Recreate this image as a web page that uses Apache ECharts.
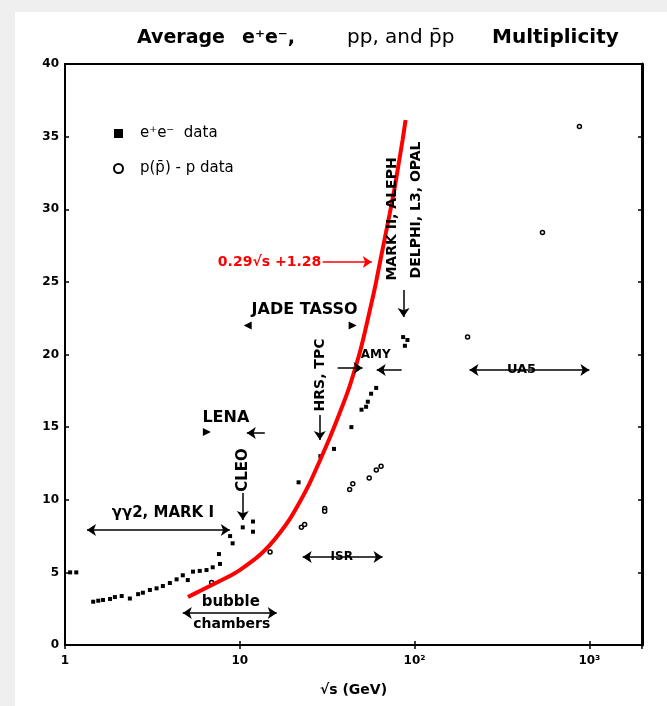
<!DOCTYPE html>
<html>
<head>
<meta charset="utf-8">
<script src="https://cdn.jsdelivr.net/npm/echarts@6/dist/echarts.min.js"></script>
<style>
html,body{margin:0;padding:0;background:#efefef;width:667px;height:706px;overflow:hidden;}
#bg{position:absolute;left:15px;top:12px;width:652px;height:694px;background:#fff;}
#chart{position:absolute;left:0;top:0;width:667px;height:706px;}
</style>
</head>
<body>
<div id="bg"></div>
<div id="chart"></div>
<script>
// ---- tick labels ----
const xTickValues = [1, 10, 100, 1000];
const xTickLabels = ['1', '10', '10²', '10³'];

// ---- e+e- data (sqrt(s) GeV, <n>) ----
const eeEnergy = [1.07, 1.16, 1.45, 1.55, 1.65, 1.81, 1.93, 2.11, 2.35, 2.62, 2.79, 3.06, 3.34, 3.63, 3.98, 4.35, 4.72, 5.04, 5.4, 5.9, 6.45, 7.0, 7.7, 7.6, 8.8, 9.1, 10.4, 11.9, 11.9, 21.7, 28.9, 34.6, 43.5, 49.7, 52.8, 54, 56.4, 60.3, 86, 88, 91];
const eeMult   = [5.0, 5.0, 2.98, 3.05, 3.1, 3.17, 3.3, 3.37, 3.2, 3.5, 3.6, 3.79, 3.9, 4.06, 4.27, 4.52, 4.8, 4.47, 5.05, 5.1, 5.16, 5.35, 5.58, 6.26, 7.5, 7.0, 8.1, 8.5, 7.8, 11.2, 13.0, 13.5, 15.0, 16.2, 16.4, 16.75, 17.3, 17.7, 21.2, 20.6, 21.0];

// ---- p(pbar)-p data ----
const ppEnergy = [6.9, 14.9, 22.5, 23.5, 30.6, 30.6, 42.5, 44.3, 55, 60.4, 64.3, 201, 539, 877];
const ppMult   = [4.3, 6.4, 8.1, 8.3, 9.4, 9.2, 10.7, 11.1, 11.5, 12.05, 12.3, 21.2, 28.4, 35.7];

// ---- red curve ----
const fitEnergy = [5.05, 5.91, 6.74, 7.69, 8.77, 10.0, 11.41, 13.01, 14.84, 16.93, 19.31, 22.03, 25.12, 28.65, 32.68, 37.28, 42.52, 48.5, 51.8, 55.32, 59.08, 63.1, 67.39, 71.97, 76.86, 82.09, 85.39, 88.82];
const fitMult   = [3.30, 3.72, 4.06, 4.41, 4.75, 5.16, 5.65, 6.20, 6.88, 7.71, 8.67, 9.85, 11.15, 12.67, 14.25, 15.97, 17.83, 20.10, 21.48, 22.99, 24.51, 26.23, 27.95, 29.67, 31.46, 33.53, 34.77, 36.14];

// ---- annotation labels (anchored in data units) ----
const annTexts  = ['γγ2, MARK I', 'bubble', 'chambers', 'ISR', 'UA5', 'AMY', 'HRS, TPC', 'MARK II, ALEPH', 'DELPHI, L3, OPAL', 'JADE TASSO', 'LENA', 'CLEO'];
const annEnergy = [3.63, 8.88, 9.0, 38.3, 409, 59.9, 29.0, 74.8, 102.6, 23.5, 8.32, 10.5];
const annMult   = [9.09, 2.96, 1.45, 6.06, 18.93, 19.97, 18.59, 29.33, 29.95, 23.06, 15.63, 12.05];

// ---- annotation arrows (data units) ----
const arrowE1 = [1.336, 4.72, 22.9, 206, 36.3, 84.3, 28.7, 86.5, 13.9, 10.4];
const arrowN1 = [7.92, 2.2, 6.06, 18.93, 19.07, 18.93, 15.83, 24.44, 14.6, 10.46];
const arrowE2 = [8.77, 16.27, 65.6, 1000, 50.4, 60.7, 28.7, 86.5, 10.97, 10.4];
const arrowN2 = [7.92, 2.2, 6.06, 18.93, 19.07, 18.93, 14.11, 22.58, 14.6, 8.6];
const arrowBoth = [true, true, true, true, false, false, false, false, false, false];

// ---- experiment range markers ----
const markE = [11.1, 44.2, 6.48];
const markN = [22.0, 22.0, 14.66];

// ---- red formula label ----
const fitLabel = '0.29√s +1.28';
const fitLabelE = 14.8, fitLabelN = 26.37;
const fitArrowE = [29.8, 56.9], fitArrowN = [26.37, 26.37];

const FONT = 'DejaVu Sans';
const annStyles = {
  'γγ2, MARK I': {fontSize: 15, fontWeight: 'bold'},
  'bubble': {fontSize: 15, fontWeight: 'bold'},
  'chambers': {fontSize: 14, fontWeight: 'bold'},
  'ISR': {fontSize: 12, fontWeight: 'bold', backgroundColor: '#fff', padding: [0, 3]},
  'UA5': {fontSize: 13, fontWeight: 'bold', backgroundColor: '#fff', padding: [0, 3]},
  'AMY': {fontSize: 12, fontWeight: 'bold'},
  'HRS, TPC': {fontSize: 14, fontWeight: 'bold', rotate: 90},
  'MARK II, ALEPH': {fontSize: 14, fontWeight: 'bold', rotate: 90},
  'DELPHI, L3, OPAL': {fontSize: 14, fontWeight: 'bold', rotate: 90},
  'JADE TASSO': {fontSize: 16, fontWeight: 'bold'},
  'LENA': {fontSize: 16, fontWeight: 'bold'},
  'CLEO': {fontSize: 15, fontWeight: 'bold', rotate: 90}
};

const baseLabel = {show: true, position: 'inside', color: '#000', fontFamily: FONT,
  textBorderWidth: 0, textBorderColor: 'transparent', textShadowBlur: 0};

const annData = annTexts.map((t, i) => ({
  value: [annEnergy[i], annMult[i]],
  name: t,
  label: Object.assign({}, baseLabel, {formatter: t}, annStyles[t])
}));

const arrowData = arrowE1.map((e, i) => [
  {coord: [e, arrowN1[i]], symbol: arrowBoth[i] ? 'arrow' : 'none'},
  {coord: [arrowE2[i], arrowN2[i]], symbol: 'arrow'}
]);

const chart = echarts.init(document.getElementById('chart'), null, {renderer: 'canvas'});

const xLabelFmt = v => {
  for (let i = 0; i < xTickValues.length; i++) {
    if (Math.abs(v - xTickValues[i]) / xTickValues[i] < 1e-6) return xTickLabels[i];
  }
  return '';
};

const option = {
  backgroundColor: 'transparent',
  animation: false,
  title: {
    text: '{a|Average}{e|e⁺e⁻,}{p|pp, and p̄p}{m|Multiplicity}',
    left: 132, top: 23,
    textStyle: {
      rich: {
        a: {fontFamily: FONT, fontWeight: 'bold', fontSize: 19, color: '#000', width: 105},
        e: {fontFamily: FONT, fontWeight: 'bold', fontSize: 19, color: '#000', width: 105},
        p: {fontFamily: FONT, fontWeight: 'normal', fontSize: 20, color: '#000', width: 145},
        m: {fontFamily: FONT, fontWeight: 'bold', fontSize: 20, color: '#000'}
      }
    }
  },
  legend: {
    orient: 'vertical', left: 108, top: 121, itemGap: 20,
    itemWidth: 9, itemHeight: 9,
    textStyle: {fontFamily: FONT, fontSize: 15, color: '#000', padding: [0, 0, 0, 12]},
    data: [{name: 'e⁺e⁻  data', icon: 'rect'}, {name: 'p(p̄) - p data', icon: 'circle'}],
    selectedMode: false
  },
  grid: {left: 65, right: 25, top: 64, bottom: 61, show: true, borderColor: '#000', borderWidth: 2},
  xAxis: [{
    type: 'log', logBase: 10, min: 1, max: 2000, position: 'bottom',
    axisLine: {lineStyle: {color: '#000', width: 2}},
    axisTick: {inside: true, length: 4, lineStyle: {color: '#000', width: 1.5}},
    splitLine: {show: false},
    axisLabel: {formatter: xLabelFmt, fontFamily: FONT, fontWeight: 'bold', fontSize: 12, color: '#000', margin: 10},
    name: '√s (GeV)', nameLocation: 'middle', nameGap: 38,
    nameTextStyle: {fontFamily: FONT, fontWeight: 'bold', fontSize: 14, color: '#000'}
  }, {
    type: 'log', logBase: 10, min: 1, max: 2000, position: 'top',
    axisLine: {lineStyle: {color: '#000', width: 2}},
    axisTick: {inside: true, length: 4, lineStyle: {color: '#000', width: 1.5}},
    splitLine: {show: false}, axisLabel: {show: false}
  }],
  yAxis: [{
    type: 'value', min: 0, max: 40, interval: 5, position: 'left',
    axisLine: {show: true, lineStyle: {color: '#000', width: 2}},
    axisTick: {show: true, inside: true, length: 4, lineStyle: {color: '#000', width: 1.5}},
    splitLine: {show: false},
    axisLabel: {fontFamily: FONT, fontWeight: 'bold', fontSize: 12, color: '#000', margin: 6}
  }, {
    type: 'value', min: 0, max: 40, interval: 5, position: 'right',
    axisLine: {show: true, lineStyle: {color: '#000', width: 3}},
    axisTick: {show: true, inside: true, length: 4, lineStyle: {color: '#000', width: 1.5}},
    splitLine: {show: false}, axisLabel: {show: false}
  }],
  series: [
    {
      name: 'e⁺e⁻  data', type: 'scatter', symbol: 'rect', symbolSize: 4,
      itemStyle: {color: '#000', opacity: 1}, silent: true,
      data: eeEnergy.map((e, i) => [e, eeMult[i]])
    },
    {
      name: 'p(p̄) - p data', type: 'scatter', symbol: 'circle', symbolSize: 4,
      itemStyle: {color: '#fff', borderColor: '#000', borderWidth: 1.5, opacity: 1}, silent: true,
      data: ppEnergy.map((e, i) => [e, ppMult[i]])
    },
    {
      name: 'fit', type: 'line', smooth: 0.3, symbol: 'none', silent: true,
      lineStyle: {color: '#ff0000', width: 4},
      data: fitEnergy.map((e, i) => [e, fitMult[i]]),
      z: 3
    },
    {
      name: 'markers', type: 'scatter', symbol: 'triangle', symbolSize: 8, silent: true,
      itemStyle: {color: '#000', opacity: 1},
      data: markE.map((e, i) => ({value: [e, markN[i]], symbolRotate: i === 0 ? 90 : -90}))
    },
    {
      name: 'annotations', type: 'scatter', symbolSize: 0, silent: true,
      itemStyle: {color: '#000', opacity: 1},
      data: annData,
      markLine: {
        silent: true, animation: false, symbolSize: 9,
        label: {show: false},
        lineStyle: {type: 'solid', color: '#000', width: 1.5, opacity: 1},
        emphasis: {disabled: true},
        data: arrowData
      },
      z: 4
    },
    {
      name: 'fitLabel', type: 'scatter', symbolSize: 0, silent: true,
      itemStyle: {color: '#ff0000', opacity: 1},
      data: [{value: [fitLabelE, fitLabelN], label: Object.assign({}, baseLabel, {formatter: fitLabel, color: '#ff0000', fontWeight: 'bold', fontSize: 14})}],
      markLine: {
        silent: true, animation: false, symbolSize: 9,
        label: {show: false},
        lineStyle: {type: 'solid', color: '#ff0000', width: 1.5, opacity: 1},
        emphasis: {disabled: true},
        data: [[{coord: [fitArrowE[0], fitArrowN[0]], symbol: 'none'}, {coord: [fitArrowE[1], fitArrowN[1]], symbol: 'arrow'}]]
      }
    }
  ]
};
chart.setOption(option);
</script>
</body>
</html>
